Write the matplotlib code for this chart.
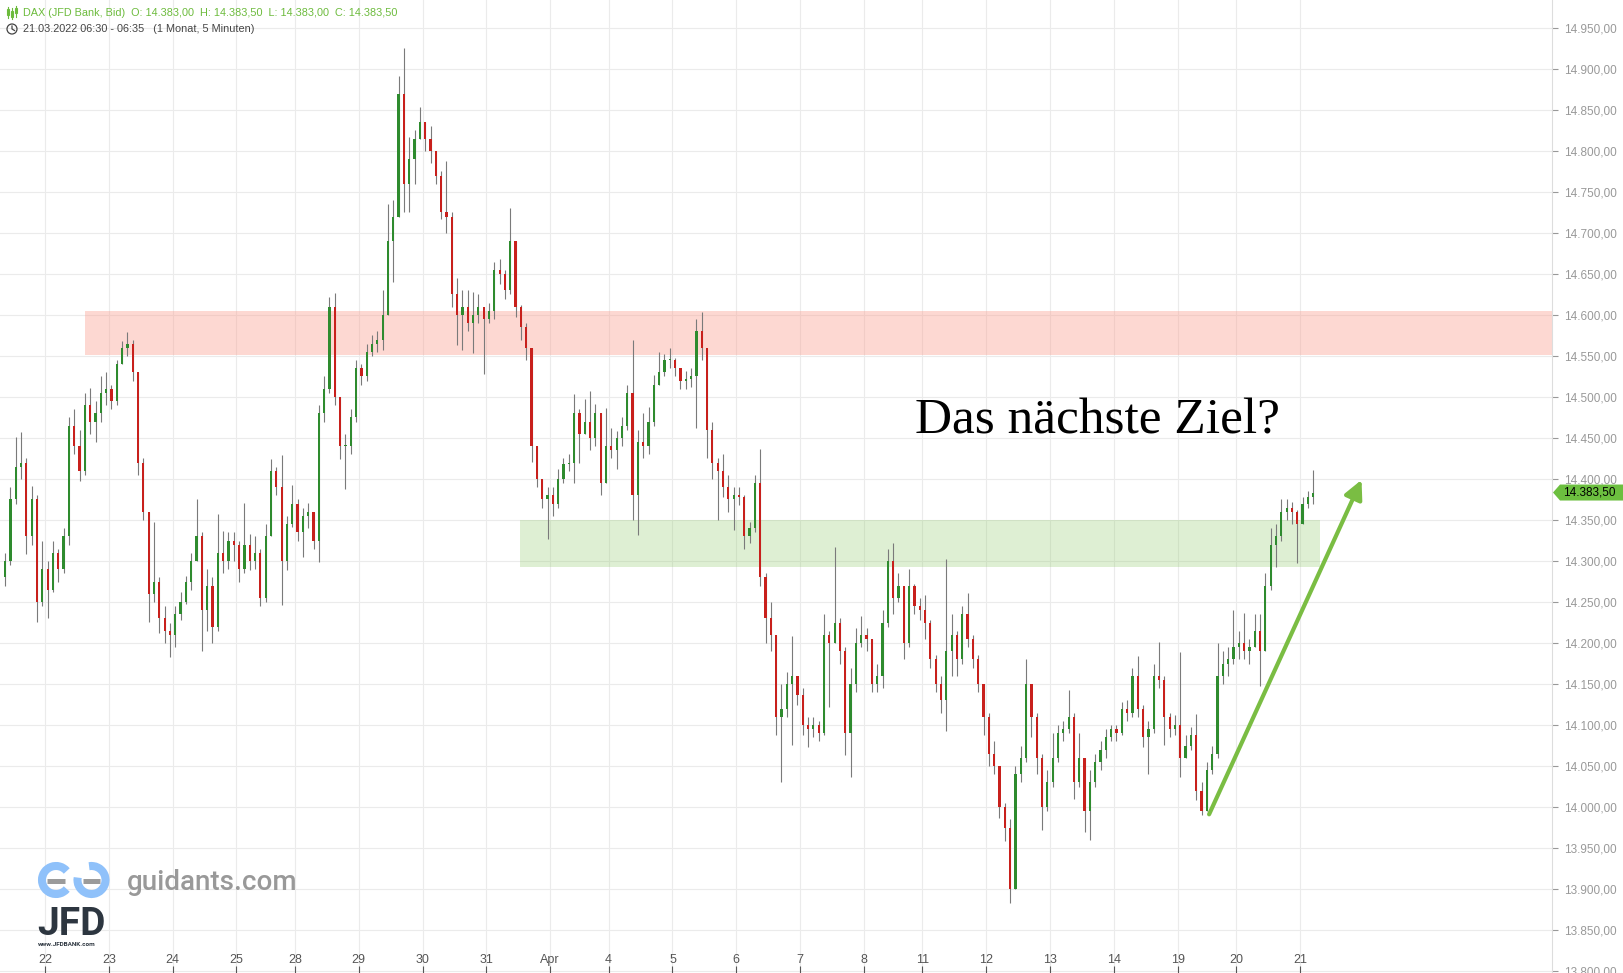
import numpy as np
import matplotlib.pyplot as plt
from matplotlib.patches import Arc, Polygon, FancyArrowPatch, Circle, Rectangle

plt.rcParams['font.family'] = ['Liberation Sans', 'DejaVu Sans']

# DAX 5 min chart, resampled by eye to ~12 candles per trading day
day_labels = [None, '22', '23', '24', '25', '28', '29', '30', '31', 'Apr', '4', '5',
              '6', '7', '8', '11', '12', '13', '14', '19', '20', '21']
day_sizes = [8, 12, 12, 12, 11, 12, 12, 12, 12, 11, 12, 12, 12, 12, 11, 12, 12, 12, 12, 11, 12, 3]

first_open = 14280
closes = [
    14300, 14375, 14415, 14420, 14330, 14375, 14250, 14290,                       # 21.3
    14265, 14310, 14290, 14330, 14465, 14440, 14410, 14490, 14470, 14480, 14505, 14510,
    14495, 14540, 14560, 14565, 14530, 14420, 14360, 14260, 14275, 14230, 14215, 14210,
    14235, 14250, 14275, 14300, 14330, 14240, 14270, 14220, 14310, 14300, 14325, 14320,
    14290, 14320, 14300, 14310, 14255, 14330, 14410, 14390, 14300, 14345, 14370,
    14335, 14355, 14360, 14325, 14480, 14510, 14610, 14500, 14440, 14440, 14475, 14535,
    14525, 14555, 14565, 14570, 14600, 14690, 14720, 14870, 14760, 14790, 14815, 14835,
    14815, 14800, 14770, 14725, 14720, 14625, 14600, 14610, 14590, 14600, 14610, 14595,
    14605, 14655, 14650, 14630, 14690, 14610, 14585, 14560, 14440, 14400, 14375, 14380,
    14370, 14400, 14418, 14420, 14480, 14455, 14470, 14450, 14480, 14395, 14440,  # 1.4
    14435, 14450, 14465, 14505, 14380, 14445, 14440, 14470, 14515, 14530, 14545, 14545,
    14535, 14520, 14522, 14525, 14580, 14560, 14460, 14420, 14410, 14390, 14375, 14380,
    14378, 14330, 14340, 14395, 14280, 14230, 14210, 14110, 14120, 14150, 14160, 14136,
    14100, 14095, 14100, 14090, 14210, 14200, 14225, 14190, 14090, 14150, 14200, 14210,
    14205, 14150, 14160, 14225, 14300, 14255, 14270, 14200, 14270, 14245, 14240,
    14225, 14180, 14150, 14130, 14190, 14210, 14180, 14235, 14205, 14180, 14150, 14110,
    14065, 14050, 14000, 13975, 13900, 14040, 14060, 14150, 14110, 14060, 14000, 14030,
    14060, 14090, 14095, 14110, 14030, 14060, 13995, 14030, 14055, 14070, 14085, 14095,
    14090, 14120, 14115, 14160, 14120, 14085, 14095, 14160, 14155, 14110, 14095, 14100,
    14060, 14075, 14088, 14020, 13995, 14045, 14065, 14160, 14175, 14180, 14195,
    14200, 14190, 14195, 14215, 14190, 14270, 14320, 14330, 14360, 14365, 14360, 14345,
    14370, 14378, 14383.5,
]
highs = [
    14310, 14390, 14451, 14457, 14425, 14392, 14380, 14325,
    14300, 14325, 14315, 14340, 14475, 14485, 14460, 14505, 14511, 14495, 14525, 14530,
    14515, 14545, 14568, 14579, 14570, 14530, 14425, 14360, 14347, 14280, 14245, 14225,
    14245, 14262, 14282, 14310, 14376, 14335, 14290, 14280, 14357, 14337, 14335, 14335,
    14325, 14371, 14333, 14330, 14315, 14345, 14424, 14415, 14429, 14355, 14393,
    14375, 14365, 14371, 14350, 14490, 14525, 14622, 14627, 14490, 14455, 14485, 14545,
    14540, 14565, 14575, 14580, 14630, 14735, 14740, 14892, 14926, 14817, 14825, 14854,
    14835, 14830, 14800, 14775, 14788, 14725, 14645, 14630, 14630, 14628, 14625, 14610,
    14615, 14665, 14668, 14655, 14731, 14690, 14612, 14590, 14560, 14440, 14400, 14390,
    14390, 14412, 14425, 14430, 14504, 14485, 14498, 14507, 14492, 14480, 14486,
    14462, 14458, 14475, 14515, 14569, 14460, 14480, 14488, 14527, 14555, 14552, 14560,
    14548, 14535, 14532, 14535, 14595, 14604, 14560, 14470, 14425, 14430, 14405, 14390,
    14390, 14380, 14348, 14405, 14437, 14285, 14250, 14210, 14150, 14165, 14208, 14160,
    14145, 14110, 14110, 14105, 14235, 14215, 14317, 14230, 14195, 14170, 14218, 14233,
    14218, 14205, 14175, 14240, 14315, 14322, 14285, 14270, 14290, 14272, 14255,
    14258, 14228, 14185, 14160, 14302, 14235, 14215, 14245, 14261, 14210, 14185, 14150,
    14115, 14080, 14050, 14005, 13985, 14050, 14075, 14180, 14150, 14115, 14065, 14045,
    14090, 14100, 14105, 14143, 14115, 14090, 14060, 14045, 14065, 14080, 14095, 14100,
    14100, 14128, 14130, 14170, 14184, 14125, 14105, 14175, 14201, 14160, 14115, 14112,
    14189, 14088, 14098, 14114, 14030, 14055, 14075, 14200, 14190, 14195, 14240,
    14215, 14236, 14205, 14235, 14235, 14285, 14340, 14345, 14376, 14376, 14372, 14362,
    14378, 14385, 14411,
]
lows = [
    14270, 14295, 14370, 14400, 14308, 14320, 14226, 14245,
    14231, 14262, 14275, 14285, 14320, 14430, 14398, 14405, 14455, 14445, 14470, 14490,
    14485, 14490, 14545, 14550, 14520, 14405, 14350, 14226, 14250, 14212, 14200, 14183,
    14195, 14228, 14248, 14265, 14300, 14190, 14215, 14200, 14215, 14285, 14290, 14300,
    14275, 14285, 14289, 14290, 14245, 14250, 14330, 14380, 14246, 14289, 14342,
    14325, 14305, 14340, 14315, 14299, 14470, 14505, 14490, 14424, 14388, 14430, 14470,
    14515, 14520, 14550, 14555, 14557, 14600, 14640, 14720, 14726, 14726, 14760, 14815,
    14800, 14785, 14760, 14717, 14700, 14610, 14563, 14557, 14580, 14554, 14590, 14528,
    14590, 14595, 14638, 14620, 14625, 14598, 14570, 14545, 14421, 14390, 14365, 14327,
    14355, 14365, 14395, 14410, 14395, 14420, 14455, 14435, 14440, 14380, 14395,
    14425, 14412, 14440, 14460, 14350, 14332, 14425, 14430, 14465, 14515, 14525, 14535,
    14525, 14510, 14510, 14512, 14462, 14545, 14425, 14400, 14350, 14378, 14360, 14338,
    14368, 14315, 14322, 14335, 14270, 14200, 14190, 14088, 14030, 14110, 14076, 14125,
    14088, 14073, 14085, 14080, 14088, 14122, 14200, 14175, 14064, 14037, 14140, 14195,
    14190, 14140, 14140, 14145, 14220, 14235, 14250, 14180, 14195, 14235, 14228,
    14205, 14170, 14140, 14115, 14093, 14160, 14160, 14175, 14195, 14170, 14140, 14088,
    14050, 14040, 13987, 13958, 13883, 13900, 14030, 14055, 14085, 14040, 13972, 13995,
    14025, 14055, 14080, 14090, 14010, 14025, 13970, 13960, 14025, 14045, 14060, 14080,
    14080, 14088, 14105, 14110, 14110, 14073, 14040, 14090, 14145, 14076, 14085, 14088,
    14037, 14060, 14070, 14009, 13990, 13995, 14040, 14060, 14150, 14160, 14175,
    14180, 14180, 14175, 14195, 14147, 14190, 14265, 14293, 14325, 14350, 14345, 14297,
    14345, 14365, 14370,
]

# chart annotations (zones drawn by the analyst)
resistance_zone = (14551, 14605)
support_zone = (14293, 14350)
last_price = closes[-1]

closes = np.array(closes, dtype=float)
opens = np.concatenate([[first_open], closes[:-1]])
highs = np.maximum(np.array(highs, dtype=float), np.maximum(opens, closes))
lows = np.minimum(np.array(lows, dtype=float), np.minimum(opens, closes))
idx = np.arange(len(closes))
n = len(closes)

day_starts = np.concatenate([[0], np.cumsum(day_sizes)[:-1]]) - 0.5


def de_fmt(v):
    return f"{v:,.2f}".replace(',', 'X').replace('.', ',').replace('X', '.')


fig = plt.figure(figsize=(16.23, 9.73), dpi=100)
ax = fig.add_axes([0, 0, 1552 / 1623, 1])
ax.set_xlim(-0.96, n + 43.9)
ax.set_ylim(13797.6, 14984.1)

# grid
for v in np.arange(13800, 14951, 50):
    ax.axhline(v, color='#ebebeb', lw=0.8, zorder=0)
for d, lab in zip(day_starts, day_labels):
    if lab is not None:
        ax.axvline(d, color='#ebebeb', lw=0.8, zorder=0)

# zones
ax.add_patch(Rectangle((15.0, resistance_zone[0]), n + 60, resistance_zone[1] - resistance_zone[0],
                       facecolor='#fb9e90', alpha=0.4, edgecolor='none', zorder=1))
ax.add_patch(Rectangle((96.8, support_zone[0]), 247.3 - 96.8, support_zone[1] - support_zone[0],
                       facecolor='#94cd70', alpha=0.3, edgecolor='none', zorder=1))

# candles
up = closes >= opens
ax.vlines(idx, lows, highs, color='#7a7a7a', lw=0.8, zorder=2)
body_lo = np.minimum(opens, closes)
body_h = np.maximum(np.abs(closes - opens), 1.5)
ax.bar(idx[up], body_h[up], bottom=body_lo[up], width=0.42, color='#2e8b2e', zorder=3)
ax.bar(idx[~up], body_h[~up], bottom=body_lo[~up], width=0.42, color='#c8201c', zorder=3)

# arrow + label
ax.add_patch(FancyArrowPatch((226.2, 13988), (255.3, 14402), arrowstyle='-|>',
                             mutation_scale=28, lw=3, color='#7abd43', zorder=4))
ax.text(171.1, 14456, 'Das nächste Ziel?', family='Liberation Serif', fontsize=37,
        va='baseline', ha='left', color='black', zorder=5)

# axes styling
for s in ['top', 'left', 'bottom']:
    ax.spines[s].set_visible(False)
ax.spines['right'].set_color('#dddddd')
ax.yaxis.tick_right()
yt = np.arange(13800, 14951, 50)
ax.set_yticks(yt)
ax.set_yticklabels([de_fmt(v) for v in yt])
ax.tick_params(axis='y', direction='out', length=4, width=0.8, pad=5, colors='#999999', labelsize=8.5)
ax.set_xticks([d for d, lab in zip(day_starts, day_labels) if lab is not None])
ax.set_xticklabels([lab for lab in day_labels if lab is not None])
ax.tick_params(axis='x', direction='in', length=5, width=0.8, pad=-14, colors='#555555', labelsize=9)

# overlay in pixel coordinates for header, price tag and logos
ov = fig.add_axes([0, 0, 1, 1], zorder=10)
ov.set_xlim(0, 1623)
ov.set_ylim(973, 0)
ov.axis('off')

green = '#6cbb3c'
# small candle icon
for xx, y0, y1, b0, b1 in [(8, 7, 18, 9, 15), (12, 8, 19, 11, 17), (16, 6, 17, 8, 13)]:
    ov.plot([xx, xx], [y0, y1], color=green, lw=0.8)
    ov.add_patch(Rectangle((xx - 1.2, b0), 2.4, b1 - b0, facecolor='none', edgecolor=green, lw=0.8))
ov.text(23, 13, 'DAX (JFD Bank, Bid)  O: 14.383,00  H: 14.383,50  L: 14.383,00  C: 14.383,50',
        color=green, fontsize=7.8, va='center', ha='left')
# clock icon
ov.add_patch(Circle((12, 29), 5, facecolor='none', edgecolor='#444444', lw=0.9))
ov.plot([12, 12, 14.5], [26, 29, 30.5], color='#444444', lw=0.9)
ov.text(23, 29, '21.03.2022 06:30 - 06:35   (1 Monat, 5 Minuten)', color='#444444',
        fontsize=7.8, va='center', ha='left')

# price tag
py = 28 + (14950 - last_price) * 0.82
ov.add_patch(Polygon([(1553, py), (1560, py - 8), (1623, py - 8), (1623, py + 8), (1560, py + 8)],
                     closed=True, facecolor='#6cbf3f', edgecolor='none'))
ov.text(1563, py, de_fmt(last_price), color='black', fontsize=8.5, va='center', ha='left')

# guidants logo
blue = '#8fc1fa'
ov.add_patch(Arc((56, 880), 28, 28, theta1=40, theta2=320, lw=5.8, color=blue))
ov.add_patch(Arc((91.5, 880), 28, 28, theta1=-100, theta2=190, lw=5.8, color=blue))
ov.plot([47, 65], [880.5, 880.5], color='#9b9b9b', lw=3.6, solid_capstyle='butt')
ov.plot([83, 100], [880.5, 880.5], color='#9b9b9b', lw=3.6, solid_capstyle='butt')
ov.text(127, 882, 'guidants.com', family='Roboto', fontsize=20, color='#999999',
        va='center', ha='left', fontweight='medium')
ov.text(37, 935, 'JFD', family='Roboto', fontweight='bold', fontsize=28, color='#2d3640',
        va='baseline', ha='left')
ov.text(38, 944, 'www.JFDBANK.com', family='Roboto', fontweight='bold', fontsize=4.6,
        color='#2d3640', va='center', ha='left')

fig.savefig('out.png', dpi=100)
